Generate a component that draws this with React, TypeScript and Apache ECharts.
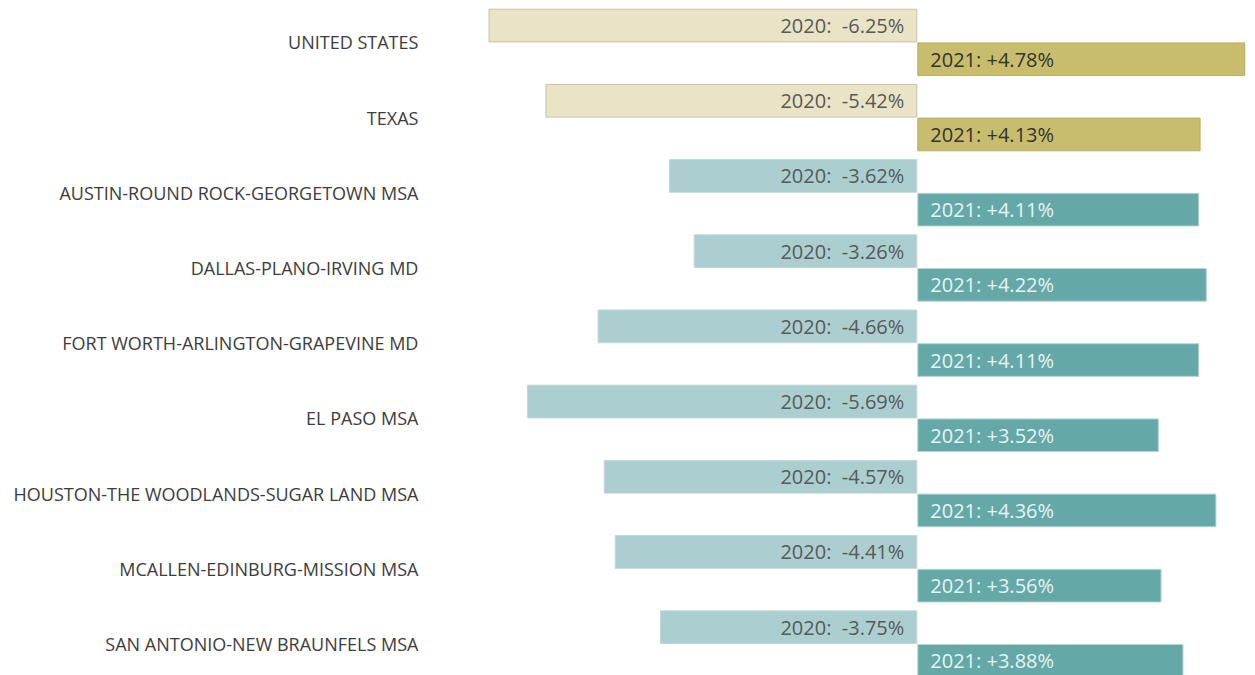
import React, { useEffect, useRef } from "react";
import * as echarts from "echarts";

const categories = [
  "UNITED STATES",
  "TEXAS",
  "AUSTIN-ROUND ROCK-GEORGETOWN MSA",
  "DALLAS-PLANO-IRVING MD",
  "FORT WORTH-ARLINGTON-GRAPEVINE MD",
  "EL PASO MSA",
  "HOUSTON-THE WOODLANDS-SUGAR LAND MSA",
  "MCALLEN-EDINBURG-MISSION MSA",
  "SAN ANTONIO-NEW BRAUNFELS MSA",
];
const values2020 = [-6.25, -5.42, -3.62, -3.26, -4.66, -5.69, -4.57, -4.41, -3.75];
const values2021 = [4.78, 4.13, 4.11, 4.22, 4.11, 3.52, 4.36, 3.56, 3.88];
const highlighted = [true, true, false, false, false, false, false, false, false];

export default function App() {
  const ref = useRef<HTMLDivElement>(null);
  useEffect(() => {
    if (!ref.current) return;
    const chart = echarts.init(ref.current, null, { renderer: "svg" });
    const font = "'Open Sans', sans-serif";
    const d2020 = values2020.map((v, i) => ({
      value: v,
      itemStyle: highlighted[i]
        ? { color: "#e9e4c6", borderColor: "#c4c0aa", borderWidth: 1 }
        : { color: "#abcfd0", borderColor: "#c2d6d6", borderWidth: 1 },
      label: { color: "#595959" },
    }));
    const d2021 = values2021.map((v, i) => ({
      value: v,
      itemStyle: highlighted[i]
        ? { color: "#c8bd6c", borderColor: "#b8ae66", borderWidth: 1 }
        : { color: "#64a9a7", borderColor: "#b9d3d2", borderWidth: 1 },
      label: { color: highlighted[i] ? "#333333" : "#e8f3f3" },
    }));
    chart.setOption({
      animation: false,
      grid: { left: 471.4, top: 4.8, width: 775.2, height: 676.8, containLabel: false },
      xAxis: {
        type: "value",
        min: -6.5,
        max: 4.8,
        show: false,
        splitLine: { show: false },
      },
      yAxis: {
        type: "category",
        inverse: true,
        data: categories,
        axisLine: { show: false },
        axisTick: { show: false },
        axisLabel: {
          margin: 53,
          color: "#3c3c3c",
          fontFamily: font,
          fontSize: 18,
          letterSpacing: -0.6,
          padding: [0, 0, 3, 0],
        },
      },
      series: [
        {
          name: "2020",
          type: "bar",
          data: d2020,
          barGap: "0%",
          barCategoryGap: "10.4%",
          label: {
            show: true,
            position: "insideRight",
            distance: 13,
            fontFamily: font,
            fontSize: 20,
            formatter: (p: any) => "2020:  " + p.value.toFixed(2) + "%",
          },
        },
        {
          name: "2021",
          type: "bar",
          data: d2021,
          barGap: "0%",
          barCategoryGap: "10.4%",
          label: {
            show: true,
            position: "insideLeft",
            distance: 13,
            fontFamily: font,
            fontSize: 20,
            formatter: (p: any) => "2021: +" + p.value.toFixed(2) + "%",
          },
        },
      ],
    });
    return () => chart.dispose();
  }, []);
  return (
    <div style={{ position: "fixed", left: 0, top: 0, width: 1255, height: 675, overflow: "hidden", background: "#fff" }}>
      <div ref={ref} style={{ width: 1255, height: 690 }} />
    </div>
  );
}
